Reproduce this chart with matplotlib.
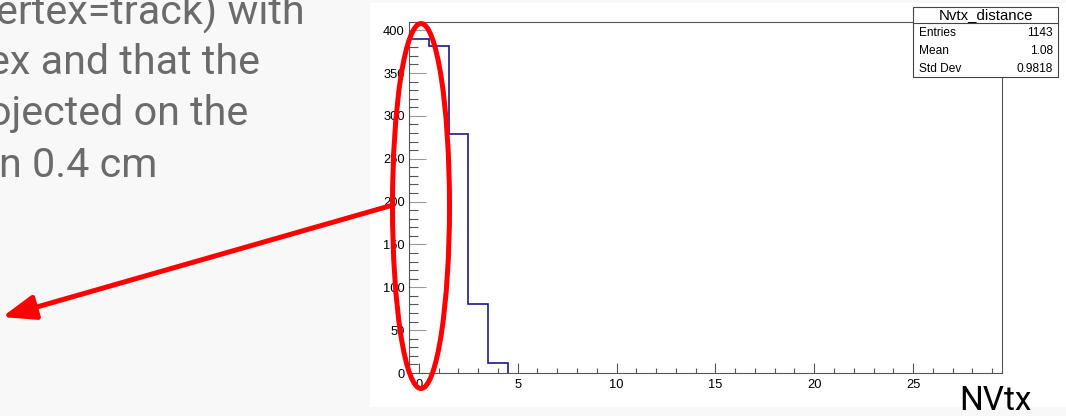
import matplotlib
matplotlib.use("Agg")
import matplotlib.pyplot as plt
from matplotlib.patches import Rectangle, Ellipse
from matplotlib.ticker import MultipleLocator

# histogram contents (NVtx per event), bins centred on integers
bin_edges = [-0.5, 0.5, 1.5, 2.5, 3.5, 4.5]
counts = [390, 381, 279, 81, 12]
x_range = (-0.5, 29.5)
y_max = 409.5

stats_title = "Nvtx_distance"
stats_names = ["Entries", "Mean", "Std Dev"]
stats_values = ["1143", "1.08", "0.9818"]

slide_lines = ["ertex=track) with", "ex and that the", "ojected on the", "n 0.4 cm"]
slide_line_ends = [305, 260, 248, 157]
slide_baselines = [25, 74, 125, 177]

W, H = 1066, 416
fig = plt.figure(figsize=(W / 100, H / 100), dpi=100)
fig.patch.set_facecolor("#f8f8f8")


def px_axes(zorder):
    a = fig.add_axes([0, 0, 1, 1], zorder=zorder)
    a.set_xlim(0, W)
    a.set_ylim(H, 0)
    a.axis("off")
    a.patch.set_alpha(0)
    return a


# background: slide text and white panel behind the ROOT canvas
bg = px_axes(0)
bg.add_patch(Rectangle((370, 3), W - 370, 404, facecolor="white", edgecolor="none"))
for txt, xe, yb in zip(slide_lines, slide_line_ends, slide_baselines):
    bg.text(xe, yb, txt, ha="right", va="baseline", fontsize=29.7,
            family="Roboto", color="#6b6b6b")

# the histogram itself
l, r, t, b = 409, 1002, 22, 373
ax = fig.add_axes([l / W, (H - b) / H, (r - l) / W, (b - t) / H], zorder=1)
ax.stairs(counts, bin_edges, color="#1c1c80", lw=1.2)
ax.set_xlim(*x_range)
ax.set_ylim(0, y_max)
ax.xaxis.set_major_locator(MultipleLocator(5))
ax.xaxis.set_minor_locator(MultipleLocator(1))
ax.yaxis.set_major_locator(MultipleLocator(50))
ax.yaxis.set_minor_locator(MultipleLocator(10))
ax.tick_params(axis="both", which="both", direction="in", colors="#555555",
               labelcolor="black", labelsize=9.3, width=0.8)
ax.tick_params(axis="y", which="major", length=12, pad=3, colors="#999999", labelcolor="black")
ax.tick_params(axis="y", which="minor", length=6.5)
ax.tick_params(axis="x", which="major", length=7, pad=4)
ax.tick_params(axis="x", which="minor", length=3.5)
for lab in ax.get_xticklabels() + ax.get_yticklabels():
    lab.set_family("Liberation Sans")
for s in ax.spines.values():
    s.set_color("#555555")
    s.set_linewidth(0.8)

# overlay: stats box, ellipse, arrow, axis caption
ov = px_axes(2)
bx0, by0, bx1, by1, bt = 913, 7, 1058, 77, 23
ov.add_patch(Rectangle((bx0, by0), bx1 - bx0, by1 - by0, facecolor="white",
                       edgecolor="#444444", lw=0.8))
ov.plot([bx0, bx1], [bt, bt], color="#444444", lw=0.8)
ov.text((bx0 + bx1) / 2, (by0 + bt) / 2 + 0.5, stats_title, ha="center", va="center",
        fontsize=10.8, family="Liberation Sans")
for i, (nm, val) in enumerate(zip(stats_names, stats_values)):
    yy = bt + 10 + i * 18
    ov.text(bx0 + 6, yy, nm, ha="left", va="center", fontsize=8.6, family="Liberation Sans")
    ov.text(bx1 - 5, yy, val, ha="right", va="center", fontsize=8.6, family="Liberation Sans")

ov.add_patch(Ellipse((421, 206), 57, 365, facecolor="none", edgecolor="red", lw=3.6))
ov.annotate("", xy=(2, 317), xytext=(393, 205),
            arrowprops=dict(arrowstyle="-|>,head_length=0.8,head_width=0.3",
                            mutation_scale=25, color="red", lw=3.6,
                            shrinkA=0, shrinkB=0))
ov.text(959, 410, "NVtx", ha="left", va="baseline", fontsize=24,
        family="Roboto", color="black")

fig.savefig("out.png", dpi=100, facecolor=fig.get_facecolor())
